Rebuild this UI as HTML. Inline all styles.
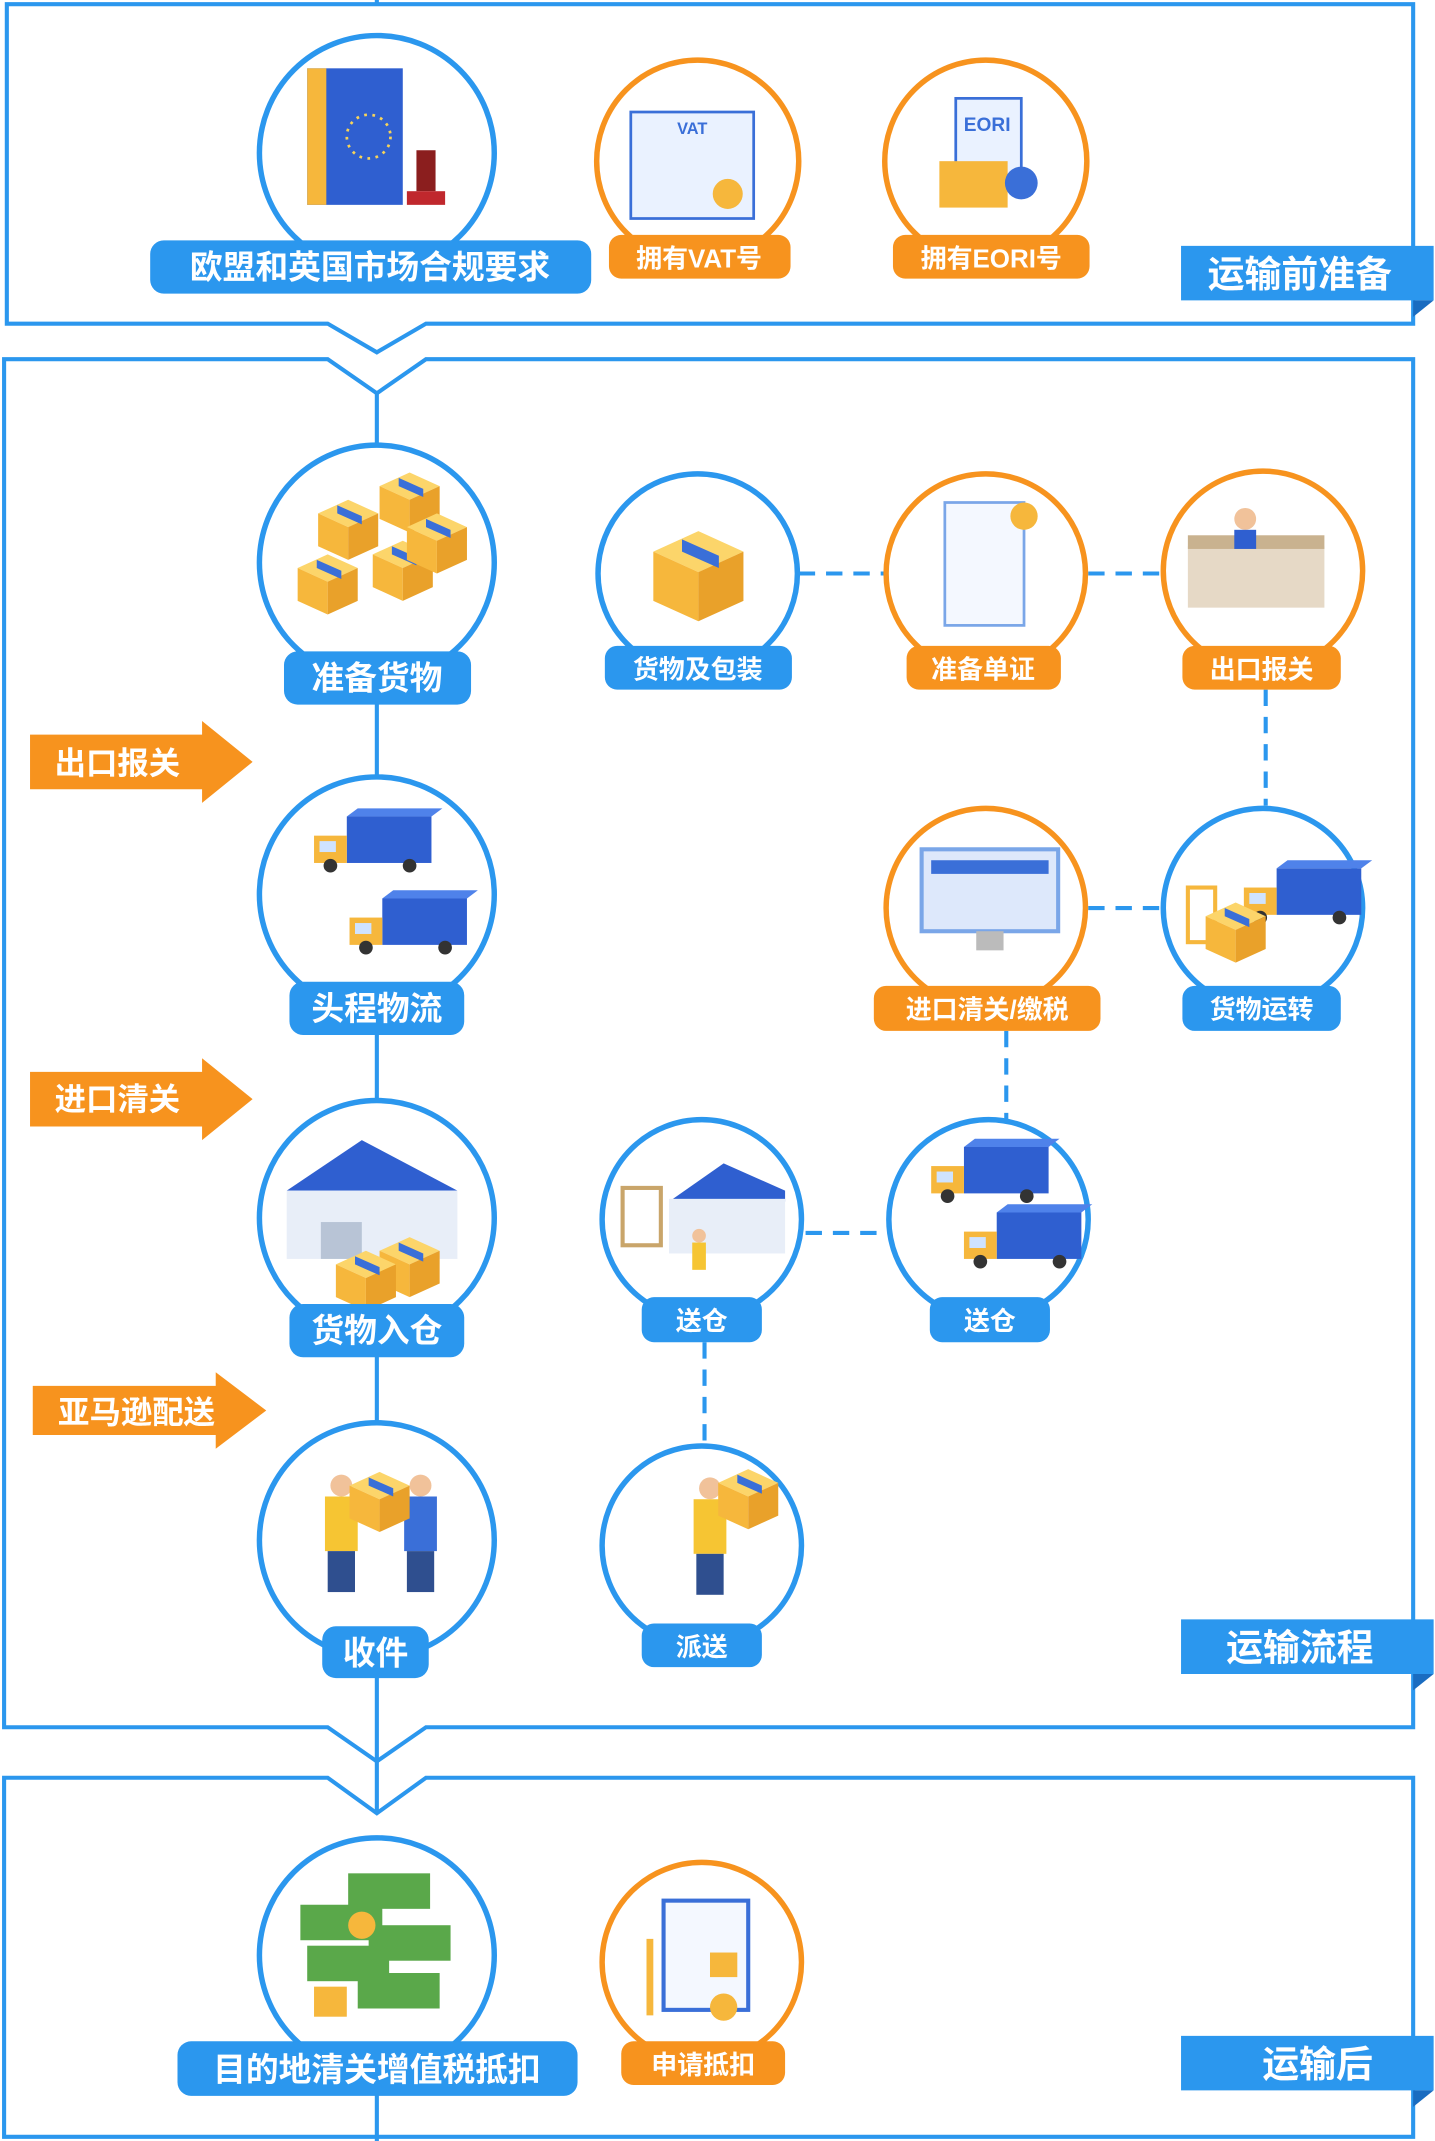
<!DOCTYPE html>
<html><head><meta charset="utf-8"><style>
html,body{margin:0;padding:0;background:#fff;}
svg{display:block;}
text{font-family:"Liberation Sans","Noto Sans CJK SC",sans-serif;font-weight:bold;fill:#fff;text-anchor:middle;}
</style></head><body>
<svg width="1435" height="2141" viewBox="0 0 1051 1568" xmlns="http://www.w3.org/2000/svg">
<defs>
<g id="box"><polygon points="0,-14 22,-4 0,6 -22,-4" fill="#fcd56a"/><polygon points="-22,-4 0,6 0,30 -22,20" fill="#f6b73c"/><polygon points="22,-4 0,6 0,30 22,20" fill="#e9a12a"/><polygon points="-8,-10 10,-2 10,4 -8,-4" fill="#3a6fd8"/></g>
<g id="truck"><rect x="-10" y="-22" width="62" height="34" fill="#2f5fd0"/><polygon points="-10,-22 52,-22 60,-28 -2,-28" fill="#4f82ea"/><rect x="-34" y="-8" width="24" height="20" fill="#f6b73c"/><rect x="-30" y="-4" width="12" height="8" fill="#cfe3ff"/><circle cx="-22" cy="14" r="5" fill="#333"/><circle cx="36" cy="14" r="5" fill="#333"/></g>
</defs>
<g fill="none" stroke="#2b97ee" stroke-width="3">
<path d="M276,0 V3 H5 V237 H240 L276,258 L312,237 H1035 V3 H276"/>
<path d="M3,263 H240 L276,288 L312,263 H1035 V1265 H312 L276,1290 L240,1265 H3 Z"/>
<path d="M3,1302 H240 L276,1328 L312,1302 H1035 V1565 H3 Z"/>
<line x1="276" y1="288" x2="276" y2="1328"/>
<line x1="276" y1="1520" x2="276" y2="1568"/>
</g>
<g fill="none" stroke="#2b97ee" stroke-width="3" stroke-dasharray="12,8">
<line x1="585" y1="420" x2="648" y2="420"/><line x1="797" y1="420" x2="851" y2="420"/>
<line x1="927" y1="505" x2="927" y2="590"/><line x1="797" y1="665" x2="851" y2="665"/>
<line x1="737" y1="755" x2="737" y2="820"/><line x1="590" y1="903" x2="652" y2="903"/>
<line x1="516" y1="983" x2="516" y2="1058"/>
</g>
<g fill="#fff" stroke="#2b97ee" stroke-width="4">
<circle cx="276" cy="112" r="86"/><circle cx="276" cy="412" r="86"/><circle cx="276" cy="655" r="86"/>
<circle cx="276" cy="892" r="86"/><circle cx="276" cy="1128" r="86"/><circle cx="276" cy="1432" r="86"/>
<circle cx="511" cy="420" r="73"/><circle cx="925" cy="665" r="73"/><circle cx="514" cy="893" r="73"/>
<circle cx="724" cy="893" r="73"/><circle cx="514" cy="1132" r="73"/>
</g>
<g fill="#fff" stroke="#f7931e" stroke-width="4">
<circle cx="511" cy="118" r="74"/><circle cx="722" cy="118" r="74"/><circle cx="722" cy="420" r="73"/>
<circle cx="925" cy="418" r="73"/><circle cx="722" cy="665" r="73"/><circle cx="514" cy="1437" r="73"/>
</g>
<!-- icons -->
<rect x="225" y="50" width="70" height="100" fill="#2f5fd0"/><rect x="225" y="50" width="14" height="100" fill="#f6b73c"/><circle cx="270" cy="100" r="16" fill="none" stroke="#f6d35a" stroke-width="2" stroke-dasharray="2,4"/><rect x="305" y="110" width="14" height="30" fill="#8b1e1e"/><rect x="298" y="140" width="28" height="10" fill="#c0282d"/>
<rect x="462" y="82" width="90" height="78" fill="#eaf2ff" stroke="#3a6fd8" stroke-width="2"/><text x="507" y="98" style="fill:#3a6fd8;font-size:12px">VAT</text><circle cx="533" cy="142" r="11" fill="#f6b73c"/>
<rect x="700" y="72" width="48" height="62" fill="#eaf2ff" stroke="#3a6fd8" stroke-width="2"/><text x="723" y="96" style="fill:#3a6fd8;font-size:14px">EORI</text><rect x="688" y="118" width="50" height="34" fill="#f6b73c"/><circle cx="748" cy="134" r="12" fill="#3a6fd8"/>
<use href="#box" x="255" y="380"/><use href="#box" x="300" y="360"/><use href="#box" x="240" y="420"/><use href="#box" x="295" y="410"/><use href="#box" x="320" y="390"/>
<use href="#box" x="511" y="410" transform="translate(-255,-205) scale(1.5)"/>
<rect x="692" y="368" width="58" height="90" fill="#f4f8ff" stroke="#7aa6e8" stroke-width="2"/><circle cx="750" cy="378" r="10" fill="#f6b73c"/>
<rect x="870" y="400" width="100" height="45" fill="#e6d9c6"/><rect x="870" y="392" width="100" height="10" fill="#c9b28f"/><circle cx="912" cy="380" r="8" fill="#f1c29a"/><rect x="904" y="388" width="16" height="14" fill="#2f5fd0"/>
<use href="#truck" x="264" y="620"/><use href="#truck" x="290" y="680"/>
<rect x="675" y="622" width="100" height="60" fill="#dde8fb" stroke="#7aa6e8" stroke-width="3"/><rect x="682" y="630" width="86" height="10" fill="#3a6fd8"/><rect x="715" y="682" width="20" height="14" fill="#bbb"/>
<use href="#truck" x="945" y="658"/><rect x="870" y="650" width="20" height="40" fill="none" stroke="#f6b73c" stroke-width="3"/><use href="#box" x="905" y="675" transform="scale(1)"/>
<polygon points="210,872 265,835 335,872" fill="#2f5fd0"/><rect x="210" y="872" width="125" height="50" fill="#e8eef8"/><rect x="235" y="895" width="30" height="27" fill="#b8c4d6"/><use href="#box" x="300" y="920"/><use href="#box" x="268" y="930"/>
<polygon points="490,880 530,852 575,872 575,880" fill="#2f5fd0"/><rect x="490" y="878" width="85" height="40" fill="#e8eef8"/><rect x="456" y="870" width="28" height="42" fill="none" stroke="#c9a56a" stroke-width="3"/><circle cx="512" cy="905" r="5" fill="#f1c29a"/><rect x="507" y="910" width="10" height="20" fill="#f6c533"/>
<use href="#truck" x="716" y="862"/><use href="#truck" x="740" y="910"/>
<g><circle cx="250" cy="1088" r="8" fill="#f1c29a"/><rect x="238" y="1096" width="24" height="40" fill="#f6c533"/><rect x="240" y="1136" width="20" height="30" fill="#2f4f8f"/><circle cx="308" cy="1088" r="8" fill="#f1c29a"/><rect x="296" y="1096" width="24" height="40" fill="#3a6fd8"/><rect x="298" y="1136" width="20" height="30" fill="#2f4f8f"/><use href="#box" x="278" y="1092" transform="translate(0,0)"/></g>
<g><circle cx="520" cy="1090" r="8" fill="#f1c29a"/><rect x="508" y="1098" width="24" height="40" fill="#f6c533"/><rect x="510" y="1138" width="20" height="30" fill="#2f4f8f"/><use href="#box" x="548" y="1090"/></g>
<g fill="#5aa84a"><rect x="220" y="1395" width="60" height="26"/><rect x="255" y="1372" width="60" height="26"/><rect x="270" y="1410" width="60" height="26"/><rect x="225" y="1425" width="60" height="26"/><rect x="262" y="1445" width="60" height="26"/></g><circle cx="265" cy="1410" r="10" fill="#f6b73c"/><rect x="230" y="1455" width="24" height="22" fill="#f6b73c"/>
<rect x="486" y="1392" width="62" height="80" fill="#f4f8ff" stroke="#3a6fd8" stroke-width="3"/><rect x="520" y="1430" width="20" height="18" fill="#f6b73c"/><circle cx="530" cy="1470" r="10" fill="#f6b73c"/><line x1="476" y1="1420" x2="476" y2="1476" stroke="#f6b73c" stroke-width="5"/>
<!-- labels -->
<g fill="#2b97ee">
<rect x="110" y="176" width="323" height="39" rx="10"/>
<rect x="208" y="477" width="137" height="39" rx="10"/><rect x="443" y="473" width="137" height="32" rx="9"/>
<rect x="212" y="719" width="128" height="39" rx="10"/><rect x="866" y="722" width="116" height="33" rx="9"/>
<rect x="212" y="955" width="128" height="39" rx="10"/><rect x="470" y="950" width="88" height="33" rx="9"/><rect x="681" y="950" width="88" height="33" rx="9"/>
<rect x="236" y="1191" width="78" height="38" rx="10"/><rect x="470" y="1189" width="88" height="32" rx="9"/>
<rect x="130" y="1495" width="293" height="40" rx="10"/>
<polygon points="865,180 1050,180 1050,220 865,220"/><polygon points="865,1186 1050,1186 1050,1226 865,1226"/><polygon points="865,1491 1050,1491 1050,1531 865,1531"/>
</g>
<g fill="#1a6cc0"><polygon points="1035,220 1050,220 1035,232"/><polygon points="1035,1226 1050,1226 1035,1238"/><polygon points="1035,1531 1050,1531 1035,1543"/></g>
<g fill="#f7931e">
<rect x="446" y="172" width="133" height="32" rx="9"/><rect x="654" y="172" width="144" height="32" rx="9"/>
<rect x="664" y="473" width="113" height="32" rx="9"/><rect x="866" y="473" width="116" height="32" rx="9"/>
<rect x="640" y="722" width="166" height="33" rx="9"/><rect x="455" y="1495" width="120" height="32" rx="9"/>
<polygon points="22,538 148,538 148,528 185,558 148,588 148,578 22,578"/>
<polygon points="22,785 148,785 148,775 185,805 148,835 148,825 22,825"/>
<polygon points="24,1015 158,1015 158,1005 195,1033 158,1061 158,1051 24,1051"/>
</g>
<text x="271" y="204" font-size="24">欧盟和英国市场合规要求</text>
<text x="512" y="196" font-size="19">拥有VAT号</text>
<text x="726" y="196" font-size="19">拥有EORI号</text>
<text x="952" y="210" font-size="27">运输前准备</text>
<text x="276" y="505" font-size="24">准备货物</text>
<text x="511" y="497" font-size="19">货物及包装</text>
<text x="720" y="497" font-size="19">准备单证</text>
<text x="924" y="497" font-size="19">出口报关</text>
<text x="86" y="567" font-size="23" style="fill:#fff">出口报关</text>
<text x="276" y="747" font-size="24">头程物流</text>
<text x="723" y="746" font-size="19">进口清关/缴税</text>
<text x="924" y="746" font-size="19">货物运转</text>
<text x="86" y="813" font-size="23">进口清关</text>
<text x="276" y="983" font-size="24">货物入仓</text>
<text x="514" y="974" font-size="19">送仓</text>
<text x="725" y="974" font-size="19">送仓</text>
<text x="100" y="1042" font-size="23">亚马逊配送</text>
<text x="275" y="1219" font-size="24">收件</text>
<text x="514" y="1213" font-size="19">派送</text>
<text x="952" y="1216" font-size="27">运输流程</text>
<text x="276" y="1524" font-size="24">目的地清关增值税抵扣</text>
<text x="515" y="1519" font-size="19">申请抵扣</text>
<text x="965" y="1521" font-size="27">运输后</text>
</svg>
</body></html>
